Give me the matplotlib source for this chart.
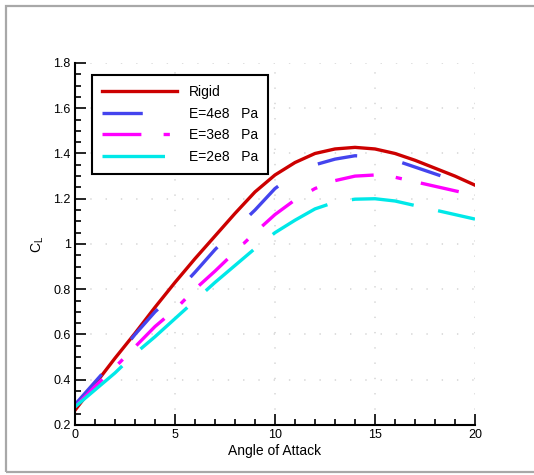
import matplotlib

matplotlib.use("Agg")
import matplotlib.pyplot as plt
from matplotlib.patches import Rectangle
from matplotlib.ticker import MultipleLocator, FuncFormatter

plt.rcParams["font.family"] = ["Liberation Sans", "DejaVu Sans"]
plt.rcParams["mathtext.fontset"] = "custom"
plt.rcParams["mathtext.rm"] = "Liberation Sans"
plt.rcParams["mathtext.it"] = "Liberation Sans"
plt.rcParams["lines.scale_dashes"] = False

# lift coefficient vs angle of attack for different stiffness
alpha = [0, 1, 2, 3, 4, 5, 6, 7, 8, 9, 10, 11, 12, 13, 14, 15, 16, 17, 18, 19, 20]
cl_rigid = [0.265, 0.38, 0.495, 0.605, 0.72, 0.83, 0.935, 1.035, 1.135, 1.23, 1.305,
            1.36, 1.40, 1.42, 1.427, 1.42, 1.40, 1.37, 1.335, 1.30, 1.26]
cl_e4 = [0.29, 0.39, 0.49, 0.60, 0.70, 0.78, 0.875, 0.975, 1.065, 1.15, 1.245,
         1.31, 1.35, 1.375, 1.39, 1.385, 1.37, 1.34, 1.31, 1.28, 1.25]
cl_e3 = [0.28, 0.37, 0.455, 0.545, 0.635, 0.71, 0.80, 0.88, 0.965, 1.05, 1.13,
         1.195, 1.245, 1.28, 1.30, 1.305, 1.295, 1.275, 1.255, 1.235, 1.215]
cl_e2 = [0.28, 0.355, 0.43, 0.515, 0.59, 0.67, 0.75, 0.83, 0.905, 0.98, 1.05,
         1.105, 1.155, 1.185, 1.198, 1.20, 1.19, 1.17, 1.15, 1.13, 1.11]
labels = ["Rigid", "E=4e8   Pa", "E=3e8   Pa", "E=2e8   Pa"]

fig = plt.figure(figsize=(5.34, 4.75), dpi=100)
ax = fig.add_axes([0.1404, 0.1053, 0.7491, 0.7621])

# outer frame around the plot
fig.patches.append(Rectangle((6 / 534, 3 / 475), 1.0, 466 / 475, transform=fig.transFigure,
                             fill=False, edgecolor="#a8a8a8", linewidth=1.6, zorder=0))

lw = 2.4
ax.plot(alpha, cl_rigid, color="#cc0000", lw=lw, label=labels[0])
ax.plot(alpha, cl_e4, color="#4444ee", lw=lw, dashes=(29, 33), label=labels[1])
ax.plot(alpha, cl_e3, color="#ff00ff", lw=lw, dashes=(28, 16, 4.5, 14), label=labels[2])
ax.plot(alpha, cl_e2, color="#00e8e8", lw=lw, dashes=(45, 18), label=labels[3])

ax.set_xlim(0, 20)
ax.set_ylim(0.2, 1.8)
ax.xaxis.set_major_locator(MultipleLocator(5))
ax.xaxis.set_minor_locator(MultipleLocator(1))
ax.yaxis.set_major_locator(MultipleLocator(0.2))
ax.yaxis.set_minor_locator(MultipleLocator(0.05))
ax.yaxis.set_major_formatter(FuncFormatter(lambda v, _: f"{v:g}"))
ax.tick_params(which="both", direction="in", width=1.2, labelsize=9, colors="black")
ax.tick_params(which="major", length=8, pad=3)
ax.tick_params(which="minor", length=4)
ax.grid(True, which="major", color="#d8d8d8", linestyle=(0, (1, 10)), lw=1.2)

for side in ("top", "right"):
    ax.spines[side].set_visible(False)
for side in ("left", "bottom"):
    ax.spines[side].set_linewidth(1.5)

ax.set_xlabel("Angle of Attack", fontsize=10, labelpad=2)
ax.set_ylabel(r"$C_L$", fontsize=10, labelpad=5)

leg = ax.legend(loc="upper left", bbox_to_anchor=(0.025, 0.985), fontsize=10,
                handlelength=5.4, handletextpad=0.9, labelspacing=0.55,
                borderpad=0.7, fancybox=False, framealpha=1.0)
leg.get_frame().set_edgecolor("black")
leg.get_frame().set_linewidth(1.5)

fig.savefig("out.png", dpi=100, facecolor="white")
